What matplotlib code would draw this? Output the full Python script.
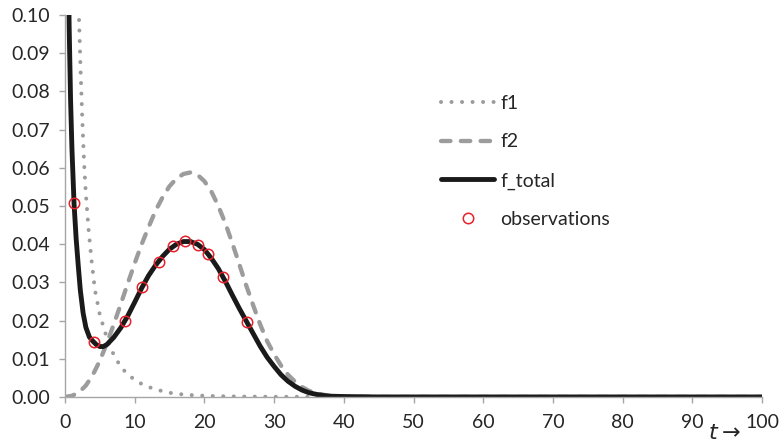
import matplotlib
matplotlib.use("Agg")
import matplotlib.pyplot as plt
from matplotlib.ticker import FormatStrFormatter

plt.rcParams['font.family'] = ['Lato', 'DejaVu Sans']

# f1 (fast decaying component)
t_f1 = [0.4, 0.6, 0.8, 1.0, 1.25, 1.5, 1.75, 2.0, 2.25, 2.5, 2.75, 3.0, 3.4,
        3.8, 4.3, 5.0, 6.0, 7.0, 8.0, 9.0, 10, 11, 12, 13, 14, 15, 16, 18,
        20, 22, 25, 30, 35, 40, 50, 60, 70, 80, 90, 100]
f1 = [0.40, 0.30, 0.245, 0.200, 0.168, 0.140, 0.118, 0.100, 0.085, 0.072,
      0.061, 0.053, 0.0435, 0.036, 0.028, 0.0215, 0.0155, 0.0110, 0.0079,
      0.0059, 0.0045, 0.0034, 0.0026, 0.0020, 0.0015, 0.0011, 0.0008,
      0.0005, 0.0003, 0.0002, 0.0001, 0.00004, 0.00002, 0, 0, 0, 0, 0, 0, 0]

# f2 (bell shaped component)
t_f2 = [0, 1, 2, 3, 4, 5, 6, 7, 8, 9, 10, 11, 12, 13, 14, 15, 16, 17, 18,
        19, 20, 21, 22, 23, 24, 25, 26, 27, 28, 29, 30, 31, 32, 33, 34, 35,
        36, 37, 38, 40, 45, 50, 60, 70, 80, 90, 100]
f2 = [0.0, 0.0003, 0.0012, 0.0030, 0.0058, 0.0095, 0.0140, 0.0190, 0.0243,
      0.0297, 0.0350, 0.0400, 0.0445, 0.0488, 0.0523, 0.0552, 0.0572,
      0.0584, 0.0588, 0.0582, 0.0565, 0.0538, 0.0500, 0.0455, 0.0403,
      0.0348, 0.0292, 0.0240, 0.0190, 0.0146, 0.0112, 0.0082, 0.0058,
      0.0040, 0.0026, 0.0016, 0.0010, 0.0006, 0.0003, 0.0001, 0, 0, 0, 0,
      0, 0, 0]

# f_total
t_tot = [0.3, 0.45, 0.6, 0.8, 1.0, 1.3, 1.6, 1.9, 2.2, 2.6, 3.0, 3.5, 4.0,
         4.5, 5.0, 5.5, 6, 7, 8, 9, 10, 11, 12, 13, 14, 15, 16, 17, 18, 19,
         20, 21, 22, 23, 24, 25, 26, 27, 28, 29, 30, 31, 32, 33, 34, 35, 36,
         37, 38, 40, 45, 50, 60, 70, 80, 90, 100]
f_total = [0.160, 0.118, 0.097, 0.078, 0.065, 0.0507, 0.0415, 0.0345,
           0.0280, 0.0220, 0.0182, 0.0157, 0.0146, 0.0137, 0.0132, 0.0132,
           0.0137, 0.0156, 0.0181, 0.0212, 0.0248, 0.0285, 0.0318, 0.0345,
           0.0368, 0.0387, 0.0400, 0.0407, 0.0407, 0.0400, 0.0386, 0.0363,
           0.0336, 0.0303, 0.0267, 0.0232, 0.0199, 0.0166, 0.0133, 0.0104,
           0.0080, 0.0058, 0.0041, 0.0028, 0.0018, 0.0011, 0.0007, 0.0004,
           0.0002, 0.0001, 0, 0, 0, 0, 0, 0, 0]

# observations
t_obs = [1.3, 4.1, 8.6, 11.1, 13.5, 15.5, 17.2, 19.1, 20.5, 22.6, 26.1]
y_obs = [0.0507, 0.0145, 0.0198, 0.0287, 0.0354, 0.0395, 0.0408, 0.0399,
         0.0374, 0.0313, 0.0196]

x_ticks = [0, 10, 20, 30, 40, 50, 60, 70, 80, 90, 100]
y_ticks = [0.00, 0.01, 0.02, 0.03, 0.04, 0.05, 0.06, 0.07, 0.08, 0.09, 0.10]

gray = '#9C9C9C'
axis_gray = '#A6A6A6'
text_col = '#262626'

fig = plt.figure(figsize=(7.8, 4.45), dpi=100)
ax = fig.add_axes([0.0833, 0.108, 0.8937, 0.858])

ax.plot(t_f1, f1, color=gray, lw=2.9, linestyle=(0, (0.01, 2.6)),
        dash_capstyle='round', label='f1')
ax.plot(t_f2, f2, color=gray, lw=3.1, linestyle=(0, (2.2, 2.4)),
        dash_capstyle='round', label='f2')
ax.plot(t_tot, f_total, color='#1A1A1A', lw=3.5, solid_capstyle='round',
        label='f_total')
ax.plot(t_obs, y_obs, linestyle='none', marker='o', markersize=7.5,
        markerfacecolor='none', markeredgecolor='#E8202A',
        markeredgewidth=1.1, label='observations')

ax.set_xlim(0, 100)
ax.set_ylim(0, 0.10)
ax.set_xticks(x_ticks)
ax.set_yticks(y_ticks)
ax.yaxis.set_major_formatter(FormatStrFormatter('%.2f'))

for s in ['top', 'right']:
    ax.spines[s].set_visible(False)
for s in ['left', 'bottom']:
    ax.spines[s].set_color(axis_gray)
    ax.spines[s].set_linewidth(1.0)
ax.tick_params(axis='both', direction='out', length=4, width=1.0,
               color=axis_gray, labelsize=14, labelcolor=text_col)
ax.tick_params(axis='x', pad=8)
ax.tick_params(axis='y', pad=7)

leg = ax.legend(loc='upper left', bbox_to_anchor=(0.528, 0.812),
                frameon=False, fontsize=14, handlelength=2.75,
                handletextpad=0.3, labelspacing=1.12, borderaxespad=0)
for txt in leg.get_texts():
    txt.set_color(text_col)

fig.text(0.928, 0.028, r'$t\rightarrow$', fontsize=16, color=text_col,
         ha='center', va='center')

fig.savefig('out.png', dpi=100)
